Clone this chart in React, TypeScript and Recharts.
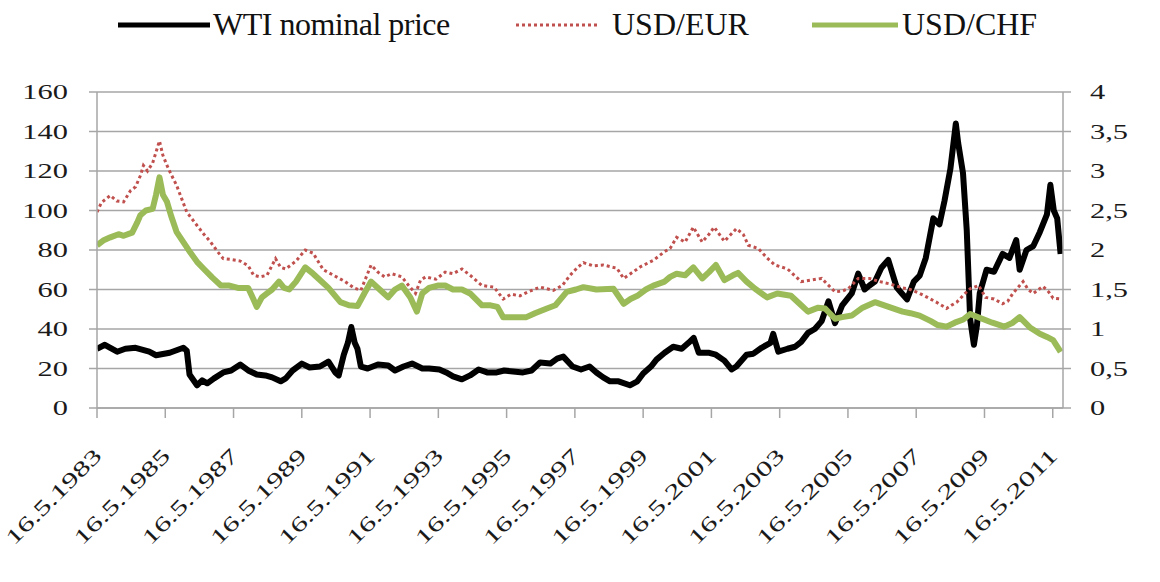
import React from "react";
import { LineChart, Line, XAxis, YAxis, CartesianGrid } from "recharts";

// WTI nominal price, USD per barrel (left axis)
const wtiYears = [
  1983.37, 1983.6, 1983.96, 1984.2, 1984.5, 1984.9, 1985.1, 1985.5, 1985.9, 1986.0,
  1986.08, 1986.3, 1986.45, 1986.6, 1986.8, 1987.07, 1987.3, 1987.57, 1987.8, 1988.05,
  1988.3, 1988.5, 1988.75, 1988.9, 1989.1, 1989.37, 1989.6, 1989.9, 1990.15, 1990.35,
  1990.45, 1990.6, 1990.72, 1990.82, 1990.92, 1991.0, 1991.1, 1991.3, 1991.6, 1991.9,
  1992.1, 1992.35, 1992.6, 1992.9, 1993.1, 1993.4, 1993.6, 1993.8, 1994.06, 1994.3,
  1994.55, 1994.8, 1995.08, 1995.3, 1995.56, 1995.85, 1996.1, 1996.35, 1996.65, 1996.85,
  1997.03, 1997.3, 1997.55, 1997.8, 1998.0, 1998.2, 1998.4, 1998.65, 1998.98, 1999.2,
  1999.37, 1999.6, 1999.76, 2000.0, 2000.25, 2000.5, 2000.7, 2000.85, 2001.0, 2001.28,
  2001.5, 2001.75, 2001.96, 2002.1, 2002.4, 2002.6, 2002.84, 2003.1, 2003.18, 2003.33,
  2003.6, 2003.82, 2004.0, 2004.2, 2004.4, 2004.6, 2004.8, 2004.99, 2005.2, 2005.48,
  2005.67, 2005.86, 2006.0, 2006.16, 2006.35, 2006.55, 2006.8, 2006.95, 2007.1, 2007.3,
  2007.47, 2007.65, 2007.87, 2008.05, 2008.2, 2008.37, 2008.53, 2008.6, 2008.74, 2008.85,
  2008.95, 2009.06, 2009.15, 2009.23, 2009.43, 2009.65, 2009.9, 2010.1, 2010.3, 2010.4,
  2010.6, 2010.8, 2010.99, 2011.2, 2011.3, 2011.4, 2011.5, 2011.6,
];
const wtiPrices = [
  30, 32, 28.5, 30, 30.5, 28.5, 26.7, 28, 30.5, 29,
  17, 11.5, 14, 12.5, 15, 18, 19, 22, 19, 17,
  16.5, 15.5, 13.5, 15, 19, 22.5, 20.5, 21, 23.5, 18,
  16.5, 27, 33, 41, 33, 30, 21, 20, 22, 21.5,
  19, 21, 22.5, 20, 20, 19.5, 18, 16, 14.5, 16.5,
  19.5, 18, 18, 19, 18.5, 18, 19, 23, 22.5, 25,
  26, 21, 19.5, 21, 18, 15.5, 13.5, 13.5, 11.5, 13.5,
  17.5, 21, 24.5, 28, 31, 30, 33, 35.5, 28, 28,
  27, 24, 19.5, 21, 27, 27.5, 30.5, 33, 37.5, 28.5,
  30, 31, 33.5, 38, 40, 44, 54, 43, 52, 58,
  68, 60, 62, 64, 71, 75, 61, 58, 55, 64,
  67, 76, 96, 93, 105, 121, 144, 134, 119, 90,
  45, 32, 42, 58, 70, 69, 78, 76, 85, 70,
  80, 82, 89, 98, 113, 100, 96, 78,
];

// USD/EUR (right axis)
const eurYears = [
  1983.37, 1983.5, 1983.76, 1983.95, 1984.15, 1984.35, 1984.5, 1984.65, 1984.73, 1984.85,
  1985.0, 1985.2, 1985.3, 1985.42, 1985.55, 1985.7, 1985.85, 1986.0, 1986.3, 1986.5,
  1986.7, 1986.9, 1987.07, 1987.3, 1987.57, 1987.8, 1987.96, 1988.15, 1988.35, 1988.6,
  1988.75, 1988.9, 1989.2, 1989.47, 1989.7, 1990.0, 1990.3, 1990.64, 1990.9, 1991.1,
  1991.25, 1991.4, 1991.6, 1991.8, 1992.0, 1992.3, 1992.5, 1992.7, 1992.85, 1993.0,
  1993.3, 1993.57, 1993.8, 1994.06, 1994.3, 1994.65, 1995.0, 1995.27, 1995.5, 1995.76,
  1996.0, 1996.35, 1996.74, 1997.0, 1997.23, 1997.45, 1997.62, 1997.9, 1998.2, 1998.6,
  1998.8, 1999.0, 1999.3, 1999.67, 2000.0, 2000.16, 2000.35, 2000.6, 2000.84, 2001.1,
  2001.3, 2001.45, 2001.75, 2002.1, 2002.3, 2002.45, 2002.74, 2003.0, 2003.23, 2003.6,
  2003.8, 2004.0, 2004.3, 2004.6, 2004.99, 2005.2, 2005.38, 2005.67, 2006.0, 2006.3,
  2006.6, 2006.97, 2007.2, 2007.47, 2007.7, 2007.96, 2008.26, 2008.4, 2008.56, 2008.8,
  2008.95, 2009.2, 2009.4, 2009.65, 2009.9, 2010.05, 2010.2, 2010.5, 2010.65, 2010.8,
  2011.08, 2011.25, 2011.38, 2011.6,
];
const eurRates = [
  2.48, 2.6, 2.69, 2.62, 2.61, 2.75, 2.8, 2.95, 3.07, 3.0,
  3.1, 3.38, 3.2, 3.07, 2.95, 2.82, 2.65, 2.48, 2.31, 2.2,
  2.1, 1.98, 1.89, 1.88, 1.86, 1.8, 1.68, 1.66, 1.68, 1.89,
  1.78, 1.76, 1.86, 2.0, 1.96, 1.75, 1.68, 1.6, 1.52, 1.49,
  1.65, 1.81, 1.72, 1.66, 1.7, 1.66, 1.55, 1.45, 1.62, 1.66,
  1.63, 1.72, 1.7, 1.76, 1.68, 1.55, 1.53, 1.38, 1.44, 1.42,
  1.47, 1.53, 1.49, 1.55, 1.68, 1.78, 1.84, 1.8, 1.81, 1.77,
  1.64, 1.7, 1.79, 1.87, 1.98, 2.02, 2.16, 2.1, 2.29, 2.1,
  2.2, 2.29, 2.11, 2.27, 2.2, 2.06, 2.02, 1.9, 1.81, 1.76,
  1.68, 1.6, 1.62, 1.64, 1.47, 1.48, 1.51, 1.64, 1.64, 1.6,
  1.57, 1.52, 1.5, 1.45, 1.4, 1.34, 1.26, 1.3, 1.34, 1.45,
  1.51, 1.55, 1.4, 1.38, 1.32, 1.35, 1.45, 1.6, 1.5, 1.45,
  1.54, 1.47, 1.39, 1.38,
];

// USD/CHF (right axis)
const chfYears = [
  1983.37, 1983.55, 1983.76, 1984.0, 1984.15, 1984.4, 1984.55, 1984.64, 1984.8, 1985.0,
  1985.1, 1985.2, 1985.3, 1985.42, 1985.55, 1985.7, 1985.9, 1986.1, 1986.3, 1986.5,
  1986.75, 1987.0, 1987.25, 1987.5, 1987.8, 1987.95, 1988.05, 1988.2, 1988.35, 1988.5,
  1988.7, 1988.85, 1989.0, 1989.2, 1989.47, 1989.7, 1989.9, 1990.15, 1990.5, 1990.75,
  1991.0, 1991.2, 1991.4, 1991.65, 1991.9, 1992.1, 1992.3, 1992.55, 1992.74, 1992.9,
  1993.1, 1993.35, 1993.57, 1993.8, 1994.06, 1994.3, 1994.65, 1994.9, 1995.1, 1995.27,
  1995.6, 1995.95, 1996.2, 1996.55, 1996.8, 1997.13, 1997.4, 1997.62, 1998.0, 1998.5,
  1998.8, 1999.0, 1999.2, 1999.45, 1999.67, 2000.0, 2000.16, 2000.35, 2000.6, 2000.84,
  2001.1, 2001.3, 2001.5, 2001.75, 2002.0, 2002.15, 2002.4, 2002.65, 2003.0, 2003.3,
  2003.7, 2004.0, 2004.2, 2004.5, 2004.7, 2004.99, 2005.2, 2005.48, 2005.8, 2006.16,
  2006.5, 2006.97, 2007.2, 2007.47, 2007.8, 2008.0, 2008.26, 2008.5, 2008.75, 2008.95,
  2009.3, 2009.6, 2009.95, 2010.2, 2010.4, 2010.7, 2010.99, 2011.2, 2011.38, 2011.6,
];
const chfRates = [
  2.06, 2.12, 2.16, 2.2, 2.18, 2.22, 2.35, 2.44, 2.5, 2.52,
  2.7, 2.92, 2.7, 2.61, 2.42, 2.23, 2.1, 1.97, 1.85, 1.76,
  1.65, 1.55, 1.55, 1.52, 1.52, 1.38, 1.28, 1.4, 1.45, 1.5,
  1.6, 1.52, 1.5, 1.6, 1.78, 1.7, 1.62, 1.52, 1.34, 1.3,
  1.29, 1.45, 1.6, 1.5, 1.4, 1.5, 1.55, 1.4, 1.22, 1.45,
  1.52, 1.55, 1.55, 1.5, 1.5, 1.45, 1.3, 1.3, 1.28, 1.15,
  1.15, 1.15, 1.2, 1.26, 1.3, 1.47, 1.5, 1.53, 1.5, 1.51,
  1.32, 1.38, 1.42, 1.5, 1.55, 1.6, 1.66, 1.7, 1.68, 1.78,
  1.64, 1.72, 1.81, 1.62, 1.68, 1.71, 1.6, 1.51, 1.4, 1.45,
  1.42, 1.3, 1.22, 1.27, 1.26, 1.13, 1.15, 1.17, 1.27, 1.34,
  1.29, 1.22, 1.2, 1.17, 1.1, 1.05, 1.03, 1.08, 1.12, 1.19,
  1.13, 1.08, 1.03, 1.08, 1.15, 1.02, 0.94, 0.9, 0.86, 0.71,
];

const tickYears = [1983, 1985, 1987, 1989, 1991, 1993, 1995, 1997, 1999, 2001, 2003, 2005, 2007, 2009, 2011];
const leftTicks = [0, 20, 40, 60, 80, 100, 120, 140, 160];
const rightTicks = [0, 0.5, 1, 1.5, 2, 2.5, 3, 3.5, 4];

const MAY16 = 135 / 365;
const xStart = 1983 + MAY16;
const xEnd = 2011.67;

const wtiData = wtiYears.map((year, i) => ({ year, wti: wtiPrices[i] }));
const eurData = eurYears.map((year, i) => ({ year, eur: eurRates[i] }));
const chfData = chfYears.map((year, i) => ({ year, chf: chfRates[i] }));

const FONT = "'Liberation Serif', 'Times New Roman', serif";
const GRID = "#a6a6a6";

function LeftTick(props: any) {
  const { x, y, payload } = props;
  return (
    <text
      transform={`translate(${x},${y}) scale(1.45,1)`}
      textAnchor="end"
      dy="0.35em"
      fontSize={21}
      fontFamily={FONT}
      fill="#1a1a1a"
    >
      {payload.value}
    </text>
  );
}

function RightTick(props: any) {
  const { x, y, payload } = props;
  return (
    <text
      transform={`translate(${x},${y}) scale(1.45,1)`}
      textAnchor="start"
      dy="0.35em"
      fontSize={21}
      fontFamily={FONT}
      fill="#1a1a1a"
    >
      {String(payload.value).replace(".", ",")}
    </text>
  );
}

function DateTick(props: any) {
  const { x, y, payload } = props;
  const label = "16.5." + Math.floor(payload.value);
  return (
    <text
      transform={`translate(${x + 6},${y + 37}) rotate(-45) scale(1.5,1)`}
      textAnchor="end"
      fontSize={21}
      fontFamily={FONT}
      fill="#1a1a1a"
    >
      {label}
    </text>
  );
}

function TopLegend() {
  const textStyle = { fontSize: 32, fontFamily: FONT, fill: "#111" };
  return (
    <svg width={1160} height={50} style={{ position: "absolute", left: 0, top: 0 }}>
      <line x1={118} y1={25} x2={210} y2={25} stroke="#000" strokeWidth={5} />
      <text x={213} y={35} {...textStyle} letterSpacing={-0.5}>WTI nominal price</text>
      <line x1={516} y1={25} x2={599} y2={25} stroke="#c0504d" strokeWidth={3} strokeDasharray="3 3" />
      <text x={612} y={35} {...textStyle}>USD/EUR</text>
      <line x1={812} y1={25} x2={898} y2={25} stroke="#9bbb59" strokeWidth={5} />
      <text x={902} y={35} {...textStyle}>USD/CHF</text>
    </svg>
  );
}

export default function App() {
  return (
    <div style={{ position: "absolute", left: 0, top: 0, width: 1160, height: 582, background: "#fff" }}>
      <LineChart width={1160} height={582} margin={{ top: 92, right: 0, bottom: 0, left: 0 }}>
        <CartesianGrid yAxisId="left" vertical={false} stroke={GRID} strokeWidth={1.5} />
        <XAxis
          dataKey="year"
          type="number"
          domain={[xStart, xEnd]}
          allowDataOverflow
          ticks={tickYears.map((y) => y + MAY16)}
          interval={0}
          height={174}
          tickSize={10}
          axisLine={{ stroke: GRID, strokeWidth: 1.5 }}
          tickLine={{ stroke: GRID, strokeWidth: 1.5 }}
          tick={<DateTick />}
        />
        <YAxis
          yAxisId="left"
          domain={[0, 160]}
          ticks={leftTicks}
          interval={0}
          width={97}
          tickSize={8}
          tickMargin={21}
          axisLine={{ stroke: GRID, strokeWidth: 1.5 }}
          tickLine={{ stroke: GRID, strokeWidth: 1.5 }}
          tick={<LeftTick />}
        />
        <YAxis
          yAxisId="right"
          orientation="right"
          domain={[0, 4]}
          ticks={rightTicks}
          interval={0}
          width={97}
          tickSize={8}
          tickMargin={19}
          axisLine={{ stroke: GRID, strokeWidth: 1.5 }}
          tickLine={{ stroke: GRID, strokeWidth: 1.5 }}
          tick={<RightTick />}
        />
        <Line
          data={wtiData}
          yAxisId="left"
          dataKey="wti"
          type="linear"
          stroke="#000"
          strokeWidth={6}
          strokeLinejoin="round"
          dot={false}
          isAnimationActive={false}
        />
        <Line
          data={eurData}
          yAxisId="right"
          dataKey="eur"
          type="linear"
          stroke="#c0504d"
          strokeWidth={3}
          strokeDasharray="3 3"
          dot={false}
          isAnimationActive={false}
        />
        <Line
          data={chfData}
          yAxisId="right"
          dataKey="chf"
          type="linear"
          stroke="#9bbb59"
          strokeWidth={6}
          strokeLinejoin="round"
          dot={false}
          isAnimationActive={false}
        />
      </LineChart>
      <TopLegend />
    </div>
  );
}
